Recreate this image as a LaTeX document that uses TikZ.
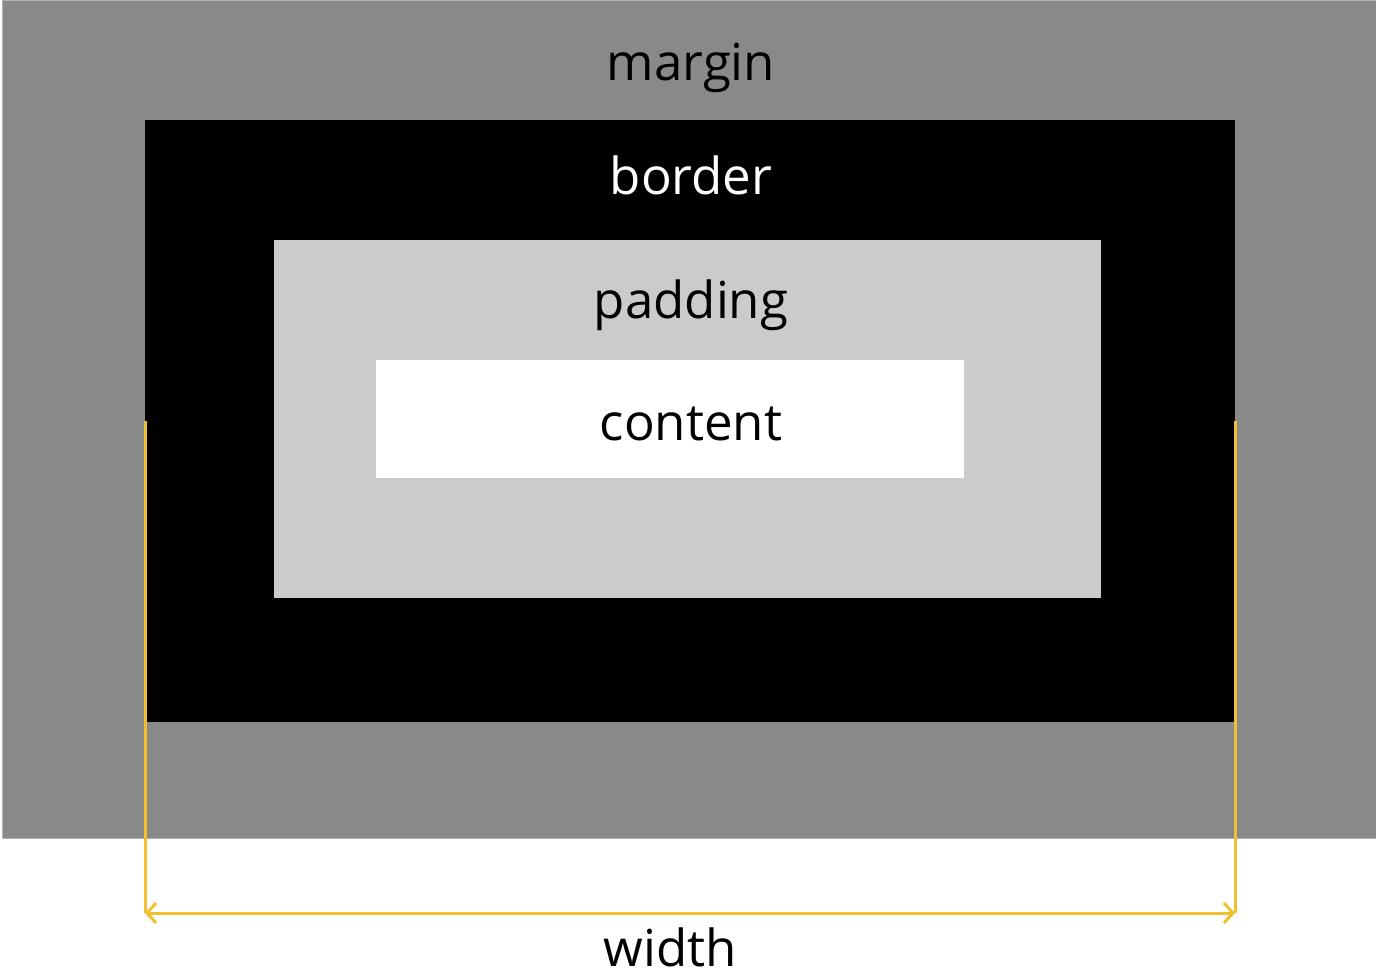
\documentclass[tikz,border=0pt]{standalone}
\usepackage{fontspec}
\setmainfont{Open Sans}
\usetikzlibrary{arrows.meta}
\definecolor{cmargin}{HTML}{898989}
\definecolor{cpadding}{HTML}{CBCBCB}
\definecolor{cwidth}{HTML}{F0C030}
\begin{document}
\begin{tikzpicture}[x=1pt,y=-1pt,
  caixa/.style={inner sep=0pt,outer sep=0pt,anchor=north west},
  rotulo/.style={font=\fontsize{51pt}{51pt}\selectfont,anchor=base},
  cota/.style={cwidth,line width=3pt}]
  \useasboundingbox (0,0) rectangle (1376,978);
  %caixas
  \node[caixa,fill=cmargin,draw=gray!60,line width=1pt,minimum width=1374pt,minimum height=838pt] (margem) at (2,0) {};
  \node[caixa,fill=black,minimum width=1090pt,minimum height=602pt] (borda) at (145,120) {};
  \node[caixa,fill=cpadding,minimum width=827pt,minimum height=358pt] (enchimento) at (274,240) {};
  \node[caixa,fill=white,minimum width=588pt,minimum height=118pt] (conteudo) at (376,360) {};
  %rótulos
  \node[rotulo] (tmargem) at (691,80) {margin};
  \node[rotulo,text=white] (tborda) at (691,194) {border};
  \node[rotulo] (tenchimento) at (691,318) {padding};
  \node[rotulo] (tconteudo) at (691,440) {content};
  %cota da largura
  \coordinate (c1) at ([yshift=-492pt]borda.west);
  \coordinate (c2) at ([yshift=-492pt]borda.east);
  \draw[cota] (borda.west) -- (c1);
  \draw[cota] (borda.east) -- (c2);
  \draw[cota,{Straight Barb[length=9pt,width=20pt]}-{Straight Barb[length=9pt,width=20pt]}] (c1) -- (c2);
  \node[rotulo] (tlargura) at (670,966) {width};
\end{tikzpicture}
\end{document}
